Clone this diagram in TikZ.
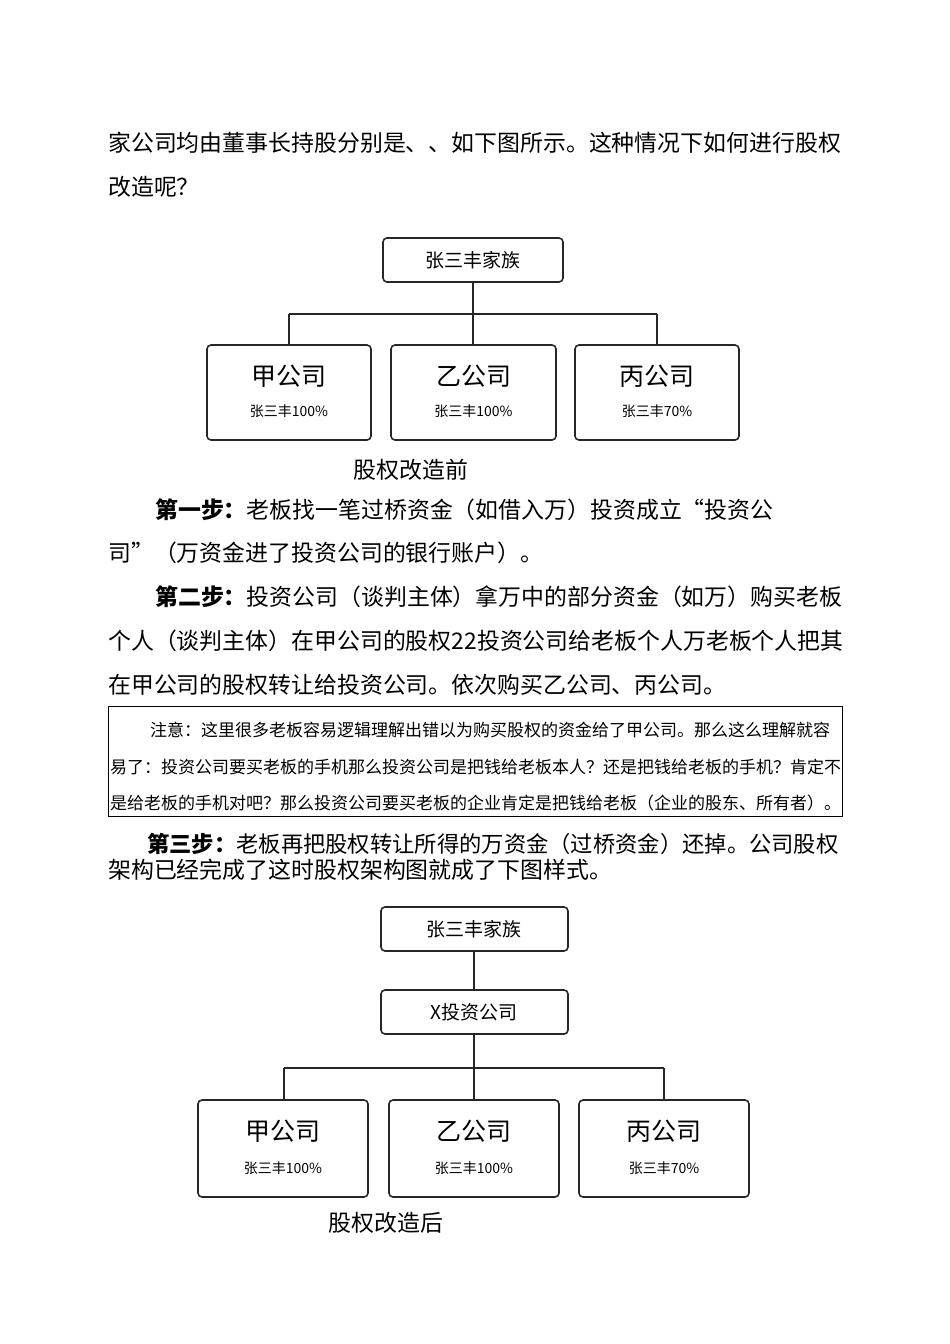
\documentclass[tikz,border=0pt]{standalone}
\usepackage{fontspec}
\setmainfont{Noto Sans CJK SC}
\begin{document}
\begin{tikzpicture}[x=1pt,y=-1pt,
  txt/.style={anchor=west,inner sep=0,font=\fontsize{22.9}{25}\selectfont},
  nt/.style={anchor=west,inner sep=0,font=\fontsize{17}{19}\selectfont},
  bx/.style={draw=black!85,line width=1.6pt,rounded corners=4pt},
  ln/.style={draw=black!85,line width=1.4pt},
  big/.style={font=\fontsize{25}{28}\selectfont,inner sep=0},
  sm/.style={font=\fontsize{14}{16}\selectfont,inner sep=0},
  mid/.style={font=\fontsize{19}{22}\selectfont,inner sep=0}]
\useasboundingbox (0,0) rectangle (950,1344);
\node[txt] (l1) at (108,143) {家公司均由董事长持股分别是、、如下图所示。这种情况下如何进行股权};
\node[txt] (l2) at (108,187) {改造呢？};
% top diagram
\draw[bx] (383,238) rectangle (563,282); \node[mid] (f1) at (473,260) {张三丰家族};
\draw[ln] (473,282) -- (473,314) (289,314) -- (657,314) (289,314) -- (289,345) (473,314)--(473,345) (657,314)--(657,345);
\foreach \x/\w/\t/\s in {207/371/甲公司/张三丰100\%,391/556/乙公司/张三丰100\%,575/739/丙公司/张三丰70\%}{
 \draw[bx] (\x,345) rectangle (\w,440);
 \node[big] at ({(\x+\w)/2},376) {\t};
 \node[sm] at ({(\x+\w)/2},411) {\s};}
\node[txt,anchor=center] (c1) at (411,470) {股权改造前};
\node[txt] (s1) at (155,510) {\textbf{第一步：}老板找一笔过桥资金（如借入万）投资成立“投资公};
\node[txt] (s1b) at (108,553) {司”（万资金进了投资公司的银行账户）。};
\node[txt] (s2) at (155,597) {\textbf{第二步：}投资公司（谈判主体）拿万中的部分资金（如万）购买老板};
\node[txt] (s2b) at (108,641) {个人（谈判主体）在甲公司的股权22投资公司给老板个人万老板个人把其};
\node[txt] (s2c) at (108,685) {在甲公司的股权转让给投资公司。依次购买乙公司、丙公司。};
\draw[black,line width=0.8pt] (108,706) rectangle (842,816);
\node[nt] (n1) at (150,730) {注意：这里很多老板容易逻辑理解出错以为购买股权的资金给了甲公司。那么这么理解就容};
\node[nt] (n2) at (110,767) {易了：投资公司要买老板的手机那么投资公司是把钱给老板本人？还是把钱给老板的手机？肯定不};
\node[nt] (n3) at (110,803) {是给老板的手机对吧？那么投资公司要买老板的企业肯定是把钱给老板（企业的股东、所有者）。};
\node[txt,font=\fontsize{22.3}{25}\selectfont] (s3) at (147,844) {\textbf{第三步：}老板再把股权转让所得的万资金（过桥资金）还掉。公司股权};
\node[txt] (s3b) at (108,870) {架构已经完成了这时股权架构图就成了下图样式。};
% bottom diagram
\draw[bx] (381,907) rectangle (568,951); \node[mid] at (474,929) {张三丰家族};
\draw[bx] (381,990) rectangle (568,1034); \node[mid] at (474,1012) {X投资公司};
\draw[ln] (474,951) -- (474,990) (474,1034) -- (474,1068) (284,1068) -- (664,1068) (284,1068)--(284,1100) (474,1068)--(474,1100) (664,1068)--(664,1100);
\foreach \x/\w/\t/\s in {198/368/甲公司/张三丰100\%,389/559/乙公司/张三丰100\%,579/749/丙公司/张三丰70\%}{
 \draw[bx] (\x,1100) rectangle (\w,1197);
 \node[big] at ({(\x+\w)/2},1131) {\t};
 \node[sm] at ({(\x+\w)/2},1168) {\s};}
\node[txt,anchor=center] (c2) at (386,1223) {股权改造后};
\end{tikzpicture}
\end{document}
